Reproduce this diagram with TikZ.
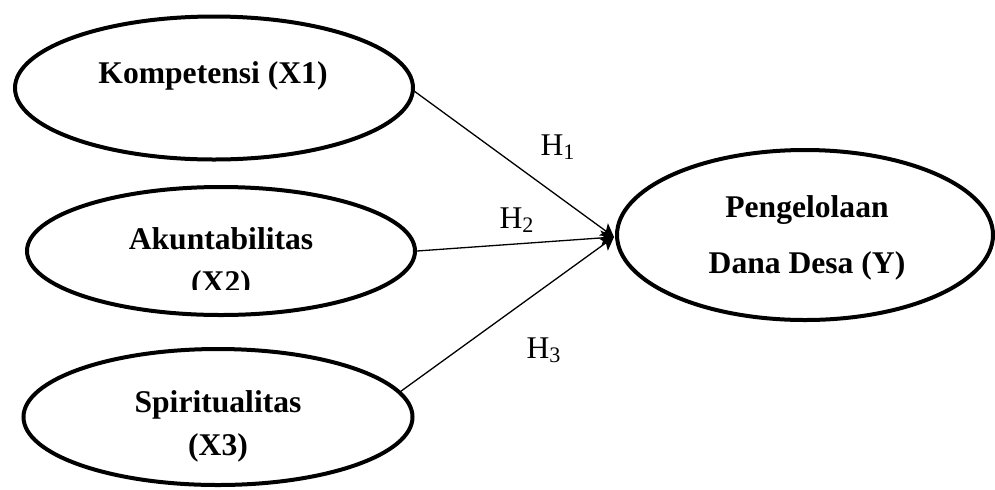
\documentclass[tikz,border=0pt]{standalone}
\usepackage{fontspec}
\setmainfont{Liberation Serif}
\usetikzlibrary{shapes.geometric,arrows.meta}

\begin{document}
\begin{tikzpicture}[x=0.5pt,y=-0.5pt,>={Stealth[length=6.5pt,width=7.5pt,inset=1.5pt]},
		construct/.style={ellipse,draw,line width=2pt,inner sep=0pt},
		construct text/.style={font=\fontsize{15.8}{21.5}\selectfont\bfseries,align=center,anchor=base},
		hyp/.style={font=\fontsize{15.8}{19}\selectfont,anchor=base},
		hyp line/.style={->,line width=0.65pt}]

		\useasboundingbox (0,0) rectangle (995,489);

		% constructs
		\node [construct, minimum width=199pt, minimum height=71.5pt] (x1) at (214,88) {};
		\node [construct, minimum width=194pt, minimum height=64pt] (x2) at (221,251) {};
		\node [construct, minimum width=194.5pt, minimum height=68pt] (x3) at (218,417) {};
		\node [construct, minimum width=188pt, minimum height=85pt] (y) at (805,235) {};

		% labels (base = last line)
		\node [construct text] (x1txt) at (213,83) {Kompetensi (X1)};
		\begin{scope}
			\clip (0,0) rectangle (995,289);
			\node [construct text] (x2txt) at (221,292) {Akuntabilitas\\(X2)};
		\end{scope}
		\node [construct text] (x3txt) at (218,455) {Spiritualitas\\(X3)};
		\node [construct text, font=\fontsize{15.8}{28}\selectfont\bfseries] (ytxt) at (807,273) {Pengelolaan\\Dana Desa (Y)};

		% hypotheses
		\coordinate (tip) at (614,237);
		\draw [hyp line] (x1.-1) -- (tip);
		\draw [hyp line] (x2.east) -- (tip);
		\draw [hyp line] (x3.8) -- (tip);

		\node [hyp] (h1) at (558,155) {H\textsubscript{1}};
		\node [hyp] (h2) at (517,228) {H\textsubscript{2}};
		\node [hyp] (h3) at (544,358) {H\textsubscript{3}};
		\end{tikzpicture}
\end{document}
